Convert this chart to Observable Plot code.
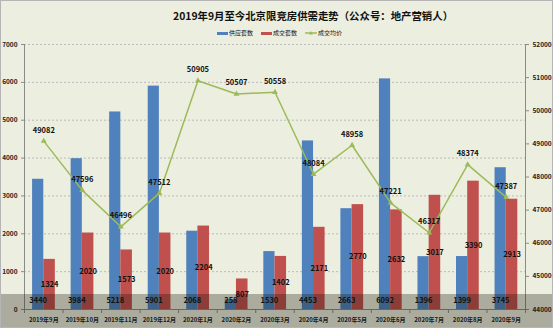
<!DOCTYPE html>
<html><head><meta charset="utf-8">
<script src="https://cdn.jsdelivr.net/npm/d3@7"></script>
<script src="https://cdn.jsdelivr.net/npm/@observablehq/plot@0.6"></script>
<style>
body{margin:0;background:#fff;}
#wrap{position:relative;width:553px;height:328px;background:#ECEEDF;overflow:hidden;font-family:"Noto Sans CJK SC","Noto Sans",sans-serif;color:#111;}
#title{position:absolute;left:173px;top:10px;line-height:12px;font-size:10.4px;font-weight:700;white-space:nowrap;}
#legend{position:absolute;left:217px;top:28px;height:10px;font-size:6px;line-height:10px;white-space:nowrap;display:flex;align-items:center;}
#legend .sw{display:inline-block;width:11px;height:3px;margin-right:1px;}
#legend .it{display:flex;align-items:center;margin-right:8px;}
#chart{position:absolute;left:0;top:36px;}
#band{position:absolute;left:0;top:294px;width:553px;height:34px;background:rgba(20,20,10,0.3);}
#border{position:absolute;left:0;top:0;width:553px;height:328px;box-sizing:border-box;border:1px solid #B5B5B5;}
</style></head>
<body>
<div id="wrap">
  <div id="title">2019年9月至今北京限竞房供需走势（公众号：地产营销人）</div>
  <div id="legend"></div>
  <div id="chart"></div>
  <div id="band"></div>
  <div id="border"></div>
</div>
<script>
const months = ["2019年9月","2019年10月","2019年11月","2019年12月","2020年1月","2020年2月","2020年3月","2020年4月","2020年5月","2020年6月","2020年7月","2020年8月","2020年9月"];
const supply = [3440,3984,5218,5901,2068,258,1530,4453,2663,6092,1396,1399,3745];
const deals = [1324,2020,1573,2020,2204,807,1402,2171,2770,2632,3017,3390,2913];
const price = [49082,47596,46496,47512,50905,50507,50558,48084,48958,47221,46317,48374,47387];
const seriesNames = ["供应套数","成交套数","成交均价"];
const colors = ["#4F81BD","#C0504D","#9BBB59"];
const leftTicks = [0,1000,2000,3000,4000,5000,6000,7000];
const rightTicks = [44000,45000,46000,47000,48000,49000,50000,51000,52000];

const rMin = rightTicks[0], rMax = rightTicks[rightTicks.length-1];
const lMax = leftTicks[leftTicks.length-1];
const toLeft = p => (p - rMin) * lMax / (rMax - rMin);
const fromLeft = v => Math.round(v * (rMax - rMin) / lMax + rMin);

const data = months.map((m,i)=>({i, month:m, supply:supply[i], deals:deals[i], price:price[i]}));
const bounds = d3.range(-0.5, months.length, 1);

// legend
const lg = document.getElementById("legend");
seriesNames.forEach((n,k)=>{
  const it = document.createElement("span"); it.className="it";
  if (k<2) {
    it.innerHTML = `<span class="sw" style="background:${colors[k]}"></span>${n}`;
  } else {
    it.innerHTML = `<svg width="12" height="6" style="margin-right:1px"><line x1="0" y1="3" x2="12" y2="3" stroke="${colors[2]}" stroke-width="1.5"/><path d="M6,1 L8,4.5 L4,4.5Z" fill="${colors[2]}"/></svg>${n}`;
  }
  lg.appendChild(it);
});

const font = '"Noto Sans CJK SC","Noto Sans",sans-serif';
const chart = Plot.plot({
  width: 553, height: 292,
  marginLeft: 24, marginRight: 28, marginTop: 8, marginBottom: 19,
  style: {background: "transparent", fontFamily: font, fontSize: "7px", color: "#222", overflow: "visible"},
  x: {domain: [-0.5, months.length - 0.5]},
  y: {domain: [0, lMax]},
  marks: [
    Plot.ruleY(leftTicks.filter(t => t > 0), {stroke: "#BBBBBB", strokeDasharray: "2,2", strokeWidth: 1}),
    Plot.rect(data, {x1: d => d.i - 0.29, x2: d => d.i, y1: 0, y2: "supply", fill: colors[0]}),
    Plot.rect(data, {x1: d => d.i, x2: d => d.i + 0.3, y1: 0, y2: "deals", fill: colors[1]}),
    Plot.ruleX([-0.5], {stroke: "#8A8A8A"}),
    Plot.ruleX([months.length - 0.5], {stroke: "#8A8A8A"}),
    Plot.ruleY([0], {stroke: "#8A8A8A"}),
    Plot.axisY({anchor: "left", ticks: leftTicks, tickSize: 3, tickPadding: 4, tickFormat: d => String(d), stroke: "#8A8A8A", fontSize: 6.5, fontWeight: 600, label: null}),
    Plot.axisY({anchor: "right", ticks: rightTicks.map(toLeft), tickSize: 3, tickPadding: 4, tickFormat: d => String(fromLeft(d)), stroke: "#8A8A8A", fontSize: 6.5, fontWeight: 600, label: null}),
    Plot.axisX({ticks: d3.range(months.length), tickSize: 0, tickPadding: 8, tickFormat: i => months[i], fontSize: 6, fontWeight: 600, label: null}),
    Plot.axisX({ticks: bounds, tickSize: 4, tickFormat: () => "", stroke: "#8A8A8A", label: null}),
    Plot.line(data, {x: "i", y: d => toLeft(d.price), stroke: colors[2], strokeWidth: 1.5}),
    Plot.dot(data, {x: "i", y: d => toLeft(d.price), symbol: "triangle", r: 2.2, fill: colors[2], stroke: null}),
    Plot.text(data, {x: d => d.i - 0.145, y: 0, text: d => String(d.supply), dy: -9, fontSize: 7.5, fontWeight: 600, fill: "#111"}),
    Plot.text(data, {x: d => d.i + 0.15, y: d => d.deals / 2, text: d => String(d.deals), fontSize: 7.5, fontWeight: 600, fill: "#111"}),
    Plot.text(data, {x: "i", y: d => toLeft(d.price), text: d => String(d.price), dy: -11, fontSize: 7.5, fontWeight: 600, fill: "#111"})
  ]
});
document.getElementById("chart").appendChild(chart);
</script>
</body></html>
